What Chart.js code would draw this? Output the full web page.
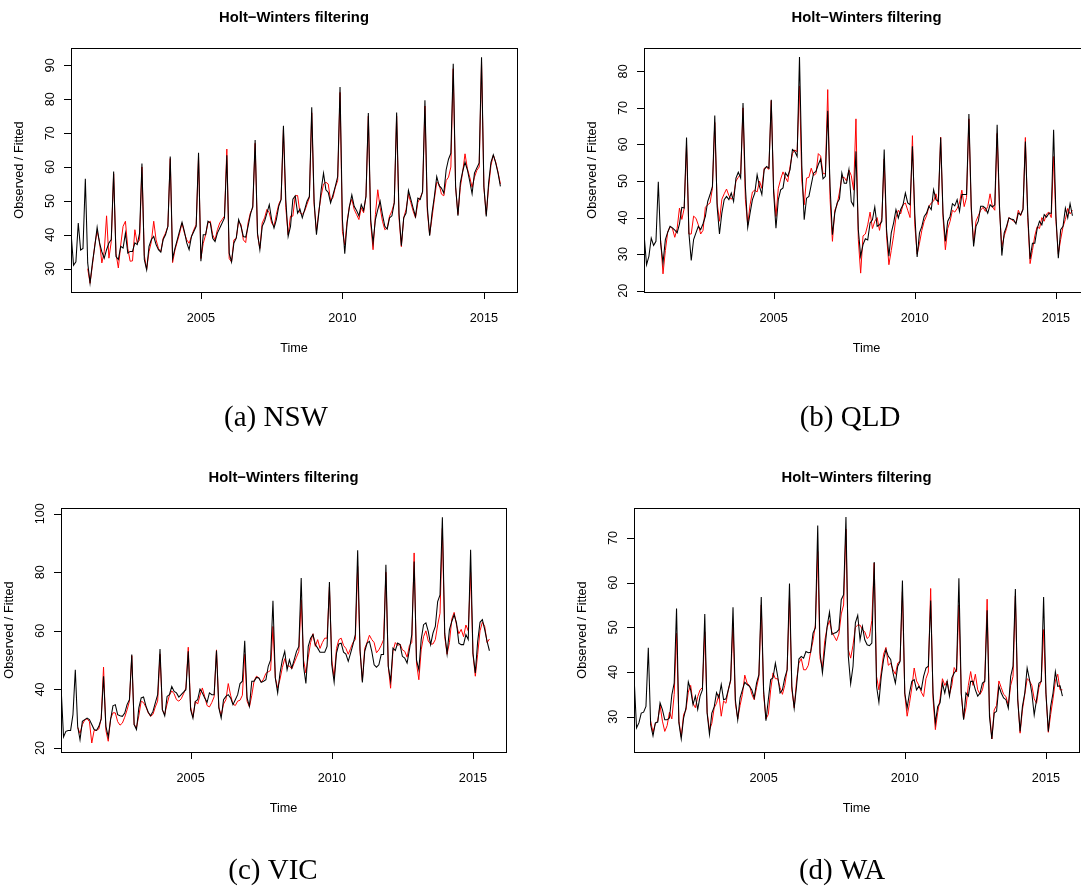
<!DOCTYPE html>
<html lang="en">
<head>
  <meta charset="UTF-8" />
  <title>Holt-Winters filtering</title>
  <script src="https://cdn.jsdelivr.net/npm/chart.js"></script>
  <style>
    html, body { margin: 0; padding: 0; background: #fff; }
    #page { position: relative; width: 1081px; height: 893px; overflow: hidden; }
    #page canvas { position: absolute; left: 0; top: 0; }
  </style>
</head>
<body>
  <div id="page">
    <canvas id="nsw" width="1100" height="893"></canvas>
    <canvas id="qld" width="1100" height="893"></canvas>
    <canvas id="vic" width="1100" height="893"></canvas>
    <canvas id="wa" width="1100" height="893"></canvas>
  </div>

  <script>
    // monthly series: observed from Jun 2000, fitted from Jan 2001, both to Aug 2015
    const observedStart = 2000 + 5 / 12;
    const fittedStart = 2001;
    const xTicks = [2005, 2010, 2015];

    const nswTicks = [30, 40, 50, 60, 70, 80, 90];
    const qldTicks = [20, 30, 40, 50, 60, 70, 80];
    const vicTicks = [20, 40, 60, 80, 100];
    const waTicks  = [30, 40, 50, 60, 70];

    const nswObserved = [
      40, 31, 32, 43.5, 35.5, 36, 56.5,
      31.7, 25.8, 31.7, 36.6, 42.2, 37.6, 35, 33.1, 35.6, 37.6, 38.6, 58.7,
      33.6, 32.7, 36.6, 36.1, 40.5, 34.6, 35.1, 35.1, 37.6, 37.1, 40.5, 61.0,
      32.7, 29.7, 36.6, 38.6, 39.5, 37.1, 35.6, 34.9, 38.6, 40.0, 42.5, 63.1,
      33, 36, 38.6, 41.2, 43.7, 41, 37.6, 35.6, 39.5, 41, 42.5, 64.2,
      32.2, 40, 40, 44, 43.5, 39, 38, 40.5, 42, 43.5, 45, 63.5,
      34.6, 32, 37.6, 39, 44.5, 42.5, 39.5, 39.3, 42.5, 46, 48.4, 68,
      40.5, 35.6, 42.5, 44, 46.4, 48.9, 44.5, 42, 44.5, 48.4, 50.4, 72.2,
      50.4, 39.5, 42.5, 50.5, 51.5, 46.4, 47.6, 45, 47.4, 49.9, 51.3, 77.6,
      50, 40, 46.4, 53.3, 58.2, 53.3, 52.5, 49.4, 51.8, 54.3, 57.2, 83.6,
      44.5, 34.4, 43.5, 48.4, 51.8, 48.4, 47.2, 45.6, 48.9, 47.2, 51.3, 75.9,
      44.5, 37.6, 44.5, 47.4, 49.9, 45.9, 42.5, 41.7, 45, 45.6, 49.4, 76.1,
      46.4, 36.8, 45, 46.4, 53.1, 50.5, 47.9, 45.4, 50.8, 50.4, 52.8, 79.7,
      48.4, 39.7, 46.4, 51.3, 57.2, 54.5, 53.8, 52.3, 59.2, 62.3, 64.1, 90.5,
      54.3, 45.6, 55.3, 58.7, 61.4, 59.2, 55.8, 52.1, 58.2, 59.7, 61.2, 92.4,
      54.3, 45.4, 55.3, 61.4, 63.6, 61.2, 58.2, 54.3
    ];
    const nswFitted = [
      30, 25.7, 31, 37, 41, 38, 31.7, 35, 45.6, 33.1, 38, 58,
      34.5, 30.2, 37, 42.5, 44, 36, 32.2, 32.3, 41.5, 37.5, 38.5, 60,
      34, 29.8, 35, 38, 44, 38.5, 36, 35, 39, 40.5, 42.5, 62.5,
      31.8, 35.5, 38, 40.5, 43.5, 40.5, 38.5, 37.5, 39.5, 41.5, 43, 63,
      33, 37.5, 40, 43.5, 44, 40, 38.5, 41.5, 43.5, 44.5, 45.5, 65.3,
      33, 32, 38.5, 39, 44, 43, 38.5, 37.7, 43.5, 46.5, 48, 67,
      40, 36, 43.5, 45, 47.5, 46.5, 43.5, 42.5, 46, 49, 50.5, 71,
      48, 40, 45.5, 45.5, 51.5, 51.6, 46.5, 46, 47, 49, 51, 76,
      49, 41, 47, 51.5, 55, 55.5, 55, 50, 51, 54, 56, 82,
      41, 37, 44, 48.5, 50.5, 47.5, 46, 44.5, 48, 46.5, 51.5, 75,
      43.5, 35.6, 46, 53.3, 48, 44, 41.5, 42, 45.5, 47, 49.5, 75,
      45, 36.5, 45, 47.5, 52, 49.5, 47, 45, 49.5, 51, 52.5, 78,
      47, 40, 45, 50.5, 55.5, 55, 52, 51.5, 56, 57, 60, 89,
      54, 46, 54, 58.5, 63.9, 59.5, 57, 54, 57, 59, 60, 91,
      54, 46, 54, 60.5, 63.5, 61.5, 58.5, 55
    ];

    const qldObserved = [
      35, 27.1, 29.4, 34.4, 32.4, 33.5, 49.8,
      33, 27.6, 34, 36, 37.6, 37.2, 36.6, 35.8, 38.3, 42.8, 42.6, 61.9,
      35.8, 28.3, 34, 35.8, 37.6, 36.7, 38.3, 40.3, 44.4, 46.3, 48.5, 67.9,
      43, 35.5, 41.2, 44.9, 45.8, 44.9, 46.7, 44.4, 50.8, 52.4, 50.8, 71.3,
      48.5, 37.3, 41.2, 44.9, 46.7, 51.7, 48.5, 46.3, 53.1, 54, 53.5, 72.2,
      47, 37.1, 44.9, 47.6, 48.1, 52.2, 51.3, 53.1, 58.6, 58.1, 56.7, 83.9,
      54, 39.4, 45.3, 45.8, 49, 52.2, 52.6, 54.5, 56, 50.6, 51.3, 69.2,
      48.5, 35.3, 41.2, 44, 45.1, 52.2, 49.4, 49.4, 53.1, 44.4, 43.2, 58.1,
      36.7, 29.4, 32.6, 34.2, 33.9, 38.5, 39.4, 42.9, 37.6, 38, 39, 58.6,
      36.7, 29.4, 35.8, 38.5, 42.2, 39.9, 42.2, 43.5, 46.7, 44, 43.5, 59.5,
      41.2, 29.2, 35.8, 37.6, 40.3, 41.2, 43.1, 42.2, 47.6, 44.9, 44.4, 61.9,
      41.2, 33.5, 39, 40.3, 43.8, 43.2, 44.9, 41.7, 46.3, 46.3, 46.3, 68.3,
      43.1, 32.1, 37.6, 39, 43.1, 43.1, 42.6, 41.2, 43.5, 42.9, 43.5, 65.4,
      43.1, 29.6, 35.8, 37.6, 39.9, 39.6, 39.4, 38.3, 41.2, 40.8, 42.2, 60.8,
      41.2, 28.7, 33, 33, 36.9, 39, 38, 40.8, 40.1, 41.2, 41.2, 64,
      40.3, 28.9, 36.7, 37.6, 42.6, 39.9, 43.8, 40.5
    ];
    const qldFitted = [
      33.7, 24.6, 31, 36, 37.5, 37, 34.6, 37, 42.6, 39.5, 42.5, 60,
      35.5, 35.5, 40.4, 39.8, 38, 35.5, 36.5, 42.8, 43.5, 44, 48, 66,
      44, 39, 45, 46.5, 47.8, 46, 45, 46, 50, 51, 52, 70,
      45, 38, 43.5, 47, 47.5, 47, 50, 48, 53.5, 53.7, 53.2, 72,
      48, 40.3, 48, 50.5, 52.5, 51, 49.8, 54, 57.5, 58.5, 58, 76,
      50, 43.5, 50.8, 51, 53.5, 51.5, 52, 57.5, 56.8, 52, 52, 75,
      45, 33.5, 42, 43.5, 47, 51, 51, 50, 53, 51.5, 47.5, 67,
      34, 24.8, 35, 35.5, 38, 41.5, 37, 39, 40, 36.5, 40, 56,
      35, 27.1, 31, 35, 40, 42, 41, 43.5, 44, 42, 40, 62.4,
      38, 30, 33, 36.5, 39, 40.5, 43, 44, 44.5, 46.5, 43.5, 62,
      40, 31.2, 37, 39, 42, 41.5, 42.5, 44, 47.5, 43, 45.5, 67,
      42, 33, 39, 40.5, 42, 42.8, 41.7, 43, 46.5, 43, 42, 63,
      42, 32, 35, 37, 40, 39.5, 39, 38.5, 42, 40.5, 42.5, 61.9,
      40, 27.4, 31, 35, 37.5, 37, 40, 39, 41, 41.5, 40, 56.7,
      39, 30, 34, 37.5, 39.5, 42.5, 41, 42
    ];

    const vicObserved = [
      40, 23.8, 25.7, 26, 26, 31.4, 46.7,
      27.4, 22.8, 29.1, 29.7, 30.2, 29.7, 28, 26.3, 26, 27.4, 29.9, 44.5,
      27.4, 23.8, 29.7, 34.4, 34.8, 31.4, 31, 30.8, 31.9, 34.8, 36.5, 51.9,
      28, 26.3, 33.7, 37.1, 37.4, 34.4, 32.2, 31, 32.5, 35.4, 38.2, 53.8,
      33.1, 31, 37.6, 38.2, 41, 39.3, 38.8, 37.4, 38.2, 39.1, 39.9, 53,
      33.1, 30.2, 35.9, 36.5, 40.1, 38.8, 37.1, 35.6, 38.8, 38.2, 38.2, 53.3,
      33.7, 30.2, 36.5, 37.6, 38.2, 37.1, 34.8, 36.5, 38.2, 42, 42.8, 56.6,
      37.1, 34.2, 42.8, 42.8, 44.1, 43.9, 42.4, 42.8, 43.3, 47.9, 50.1, 70.3,
      43.9, 38.8, 45.6, 50.1, 53, 46.7, 50.1, 47.3, 50.1, 53, 54.7, 78,
      47.9, 42, 54.7, 57.5, 58.7, 55.3, 54.1, 52.7, 52.7, 52.7, 54.7, 76.7,
      48.4, 42.5, 52.4, 55.5, 55.8, 52.7, 52.1, 49.6, 52.4, 55.3, 58.7, 87.5,
      53.6, 42.4, 53, 55.8, 56.4, 53, 48.4, 47.6, 48.4, 51.9, 51.9, 82.6,
      47.9, 42.8, 54.1, 53.3, 55.8, 55.3, 51.3, 50.7, 49, 53.6, 58.7, 83.7,
      50.1, 46.7, 57, 62.1, 62.7, 59.8, 55.3, 59.2, 61.5, 70, 72.3, 98.8,
      59.2, 52.2, 60.4, 63.2, 65.5, 62.7, 55.8, 55.3, 55.3, 58.7, 57, 87.7,
      52.4, 45.6, 56.4, 62.9, 63.8, 60.4, 56.4, 53.2
    ];
    const vicFitted = [
      27, 25, 28, 29.5, 30, 29, 21.7, 26, 26, 26.5, 30, 47.6,
      26, 22.3, 30, 32, 32, 29, 27.8, 28.5, 30.5, 33, 36, 51.5,
      28, 27, 31, 36, 35.5, 34, 32, 30.8, 31.5, 34, 36, 52,
      33, 31.5, 35, 38, 39.5, 38.5, 36.5, 36, 36.8, 38.5, 40.5, 54.4,
      34, 30.5, 36, 35, 38, 40.5, 37.5, 34.5, 34, 35.5, 37.5, 53.5,
      34, 31, 35, 36.5, 42, 38, 35, 34.5, 36, 36.3, 38, 52,
      36, 34, 38, 43, 44.5, 44, 42.5, 43.5, 45.5, 46, 46.5, 61.5,
      44, 40.5, 43.5, 47.5, 50.5, 48, 48, 47, 49, 51, 53, 70.6,
      50, 45.6, 51, 56, 59, 54.7, 57, 54, 56, 57.5, 57.5, 75,
      50, 44, 54, 57, 57.5, 55, 54, 52, 54, 56, 57, 82,
      53, 43, 54, 56, 58.5, 57, 56, 52.5, 53.5, 55, 57, 80,
      48, 40.4, 53, 56, 55, 55.5, 53.5, 53, 51, 55, 56, 86.6,
      49, 43.3, 53.5, 58, 60, 56.5, 55.5, 55.5, 57, 62, 66, 95,
      58, 52, 56, 64, 66.3, 62, 59, 60.5, 58, 62, 60, 80,
      52, 44.5, 52, 60, 63, 61.5, 56, 57.2
    ];

    const waObserved = [
      38.3, 27.5, 28.6, 30.8, 31, 32.3, 45.4,
      28.2, 25.7, 28.6, 28.8, 33.1, 31.6, 29.3, 29.3, 29.7, 34.9, 37.5, 54.2,
      28.6, 25, 29.7, 31.9, 37.8, 36, 32.7, 34.6, 31.6, 34.6, 36, 53,
      30.8, 26, 30.8, 32.2, 35.4, 34.2, 37.2, 33.8, 34, 36, 38.3, 54.5,
      33.8, 29.3, 34.2, 36, 37.7, 37.2, 36.8, 36, 34.2, 37.5, 39.4, 56.8,
      36, 29.1, 33.8, 38.3, 38.7, 42, 39, 35.3, 36, 38.7, 40.5, 59.8,
      36.8, 31.9, 36.8, 42.9, 43.5, 43.1, 44.6, 44.3, 44.4, 48.7, 49.9, 72.8,
      44.3, 39.8, 45, 50.2, 53.4, 48.4, 48.7, 48.9, 49.5, 56.2, 57.3, 74.7,
      43.5, 37.4, 41.3, 51, 52.7, 47.2, 50.2, 47.2, 46.1, 45.9, 46.5, 64.6,
      36.8, 33.2, 39, 42.8, 45, 43.5, 42.8, 39.8, 37.5, 41.3, 42.4, 60.5,
      35.3, 31.9, 35.3, 37.9, 38.3, 36, 36.8, 36, 39, 40.9, 41.3, 56,
      35.3, 28.6, 32.3, 33.1, 37.5, 35.3, 37.9, 34.6, 38.7, 39.8, 40.5, 61,
      35.3, 29.3, 35.3, 34.6, 37.9, 37.9, 36, 34.6, 35.3, 37.5, 37.9, 53.8,
      30, 25, 30.8, 31.2, 36.8, 35.3, 34.2, 33.8, 31.9, 39, 41.3, 58.6,
      33.8, 26.7, 32.3, 35.3, 40.9, 38.3, 35.3, 30.4, 33.8, 37.5, 37.9, 56.8,
      35.3, 26.7, 32.3, 35.3, 40.1, 36.8, 36.9, 34.6
    ];
    const waFitted = [
      29, 26.5, 28.5, 29, 32.5, 29, 26.7, 28, 31, 29.5, 35, 48.7,
      29, 25.5, 30.5, 31.5, 35.5, 37, 33, 32, 34.5, 36, 36.5, 49,
      31, 27, 28.5, 32, 33, 35, 30.1, 33.5, 33, 36, 38, 51,
      33, 29.5, 32.5, 35, 39.3, 37.5, 37, 35, 33.8, 36.5, 39, 55,
      35, 29.5, 30.5, 36, 39.8, 38.5, 38.5, 36.5, 35, 37, 40.5, 57,
      36, 32, 38, 42, 43, 40.5, 40.5, 41.5, 44.5, 47, 50.5, 67,
      43, 41, 47, 50, 51.5, 49, 48, 47, 48.5, 53, 55, 72,
      45, 43.1, 46, 50, 50.5, 50.5, 49.5, 49, 47.5, 48, 51.5, 64.4,
      39, 36, 40, 44, 45.5, 41.5, 42, 40.5, 39.5, 42, 42.5, 58,
      35, 30.1, 33, 36.5, 40.9, 38, 37, 35.5, 34.5, 38.5, 40, 58.7,
      34, 27.1, 31, 34, 38.5, 37, 38, 35, 37, 41, 40, 55,
      35, 29.5, 32, 37, 40.1, 37, 39.5, 36, 35, 36, 38.5, 56.3,
      31, 25, 31.5, 32.5, 38, 36.5, 35, 34.5, 32.5, 37, 39, 57,
      34, 26.3, 31.5, 35, 38.5, 38, 37, 34, 33, 36.5, 38, 49.5,
      35, 26.5, 30.5, 34, 38, 39.5, 36, 36
    ];

    const SANS = '"Liberation Sans", Arial, Helvetica, sans-serif';
    const SERIF = '"Liberation Serif", "DejaVu Serif", serif';

    // draws the R style frame, axes and labels around the plot region
    const rFrame = {
      id: 'rFrame',
      afterDraw(chart, args, o) {
        const ctx = chart.ctx;
        const a = chart.chartArea;
        const xs = chart.scales.x, ys = chart.scales.y;
        const cx = (a.left + a.right) / 2, cy = (a.top + a.bottom) / 2;

        ctx.save();
        ctx.strokeStyle = '#000';
        ctx.lineWidth = 1;
        ctx.strokeRect(a.left + 0.5, a.top + 0.5, a.right - a.left, a.bottom - a.top);

        ctx.fillStyle = '#000';
        ctx.font = '12.7px ' + SANS;
        ctx.textAlign = 'center';
        ctx.textBaseline = 'alphabetic';

        ctx.beginPath();
        xTicks.forEach(t => {
          const px = Math.round(xs.getPixelForValue(t)) + 0.5;
          ctx.moveTo(px, a.bottom);
          ctx.lineTo(px, a.bottom + 7);
        });
        o.yTicks.forEach(t => {
          const py = Math.round(ys.getPixelForValue(t)) + 0.5;
          ctx.moveTo(a.left, py);
          ctx.lineTo(a.left - 7, py);
        });
        ctx.stroke();

        xTicks.forEach(t => {
          ctx.fillText(String(t), xs.getPixelForValue(t), a.bottom + 30);
        });
        ctx.fillText('Time', cx, a.bottom + 60);

        o.yTicks.forEach(t => {
          ctx.save();
          ctx.translate(a.left - 17.5, ys.getPixelForValue(t));
          ctx.rotate(-Math.PI / 2);
          ctx.fillText(String(t), 0, 0);
          ctx.restore();
        });
        ctx.save();
        ctx.translate(a.left - 48.5, cy);
        ctx.rotate(-Math.PI / 2);
        ctx.fillText('Observed / Fitted', 0, 0);
        ctx.restore();

        ctx.font = 'bold 14.8px ' + SANS;
        ctx.fillText('Holt\u2212Winters filtering', cx, a.top - 26);

        ctx.font = '29px ' + SERIF;
        ctx.fillText(o.caption, o.captionX, o.captionY);
        ctx.restore();
      }
    };

    function buildPanel(id, box, yMin, yMax, yTicks, observed, fitted, caption, captionX, captionY) {
      const canvas = document.getElementById(id);
      new Chart(canvas.getContext('2d'), {
        type: 'line',
        data: {
          datasets: [
            {
              label: 'Observed',
              data: observed.map((v, i) => ({ x: observedStart + i / 12, y: v })),
              borderColor: '#000000',
              borderWidth: 1.05,
              pointRadius: 0,
              tension: 0,
            },
            {
              label: 'Fitted',
              data: fitted.map((v, i) => ({ x: fittedStart + i / 12, y: v })),
              borderColor: '#ff0000',
              borderWidth: 1,
              pointRadius: 0,
              tension: 0,
            },
          ],
        },
        options: {
          responsive: false,
          animation: false,
          events: [],
          layout: {
            autoPadding: false,
            padding: {
              left: box.left,
              top: box.top,
              right: canvas.width - box.right,
              bottom: canvas.height - box.bottom,
            },
          },
          scales: {
            x: { type: 'linear', display: false, min: 2000.41, max: 2016.17 },
            y: { type: 'linear', display: false, min: yMin, max: yMax },
          },
          plugins: {
            legend: { display: false },
            tooltip: { enabled: false },
            rFrame: { yTicks, caption, captionX, captionY },
          },
        },
        plugins: [rFrame],
      });
    }

    buildPanel('nsw', { left: 71, top: 48, right: 517, bottom: 292 }, 23.12, 95.12, nswTicks,
               nswObserved, nswFitted, '(a) NSW', 276, 426);
    buildPanel('qld', { left: 644, top: 48, right: 1089, bottom: 292 }, 19.64, 86.38, qldTicks,
               qldObserved, qldFitted, '(b) QLD', 850, 426);
    buildPanel('vic', { left: 61, top: 508, right: 506, bottom: 752 }, 18.63, 101.94, vicTicks,
               vicObserved, vicFitted, '(c) VIC', 273, 879);
    buildPanel('wa', { left: 634, top: 508, right: 1079, bottom: 752 }, 22.09, 76.72, waTicks,
               waObserved, waFitted, '(d) WA', 842, 879);
  </script>
</body>
</html>
